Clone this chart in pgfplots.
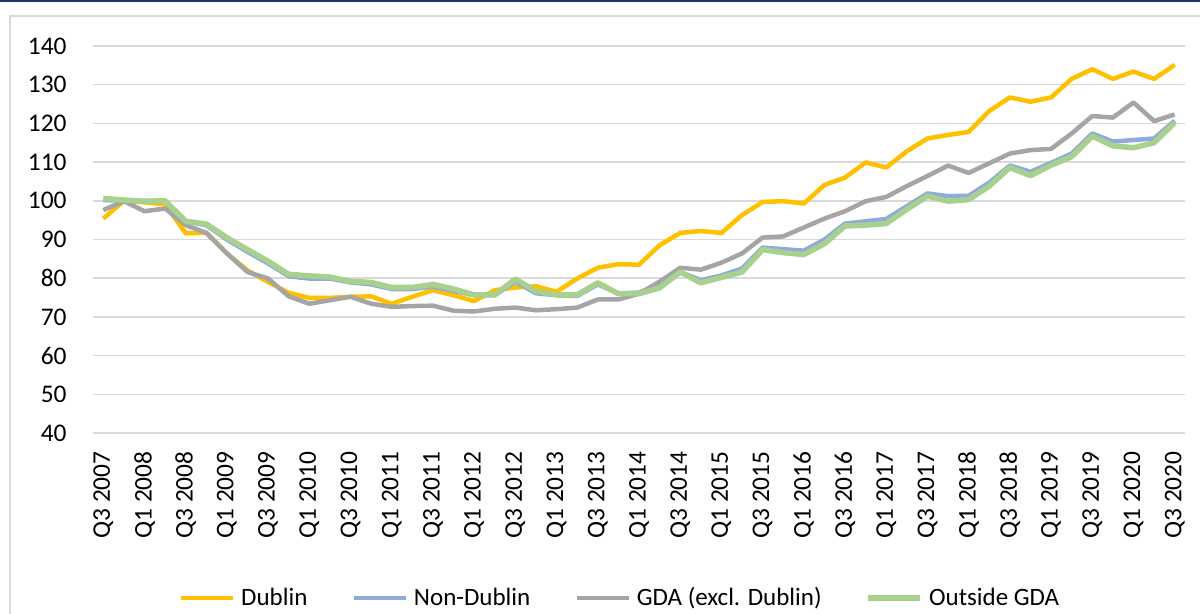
\documentclass[border=0pt]{standalone}
\usepackage{pgfplots}
\pgfplotsset{compat=1.18}
\usepackage{pgfplotstable}
\usepackage{fontspec}
\setmainfont{Carlito}
\definecolor{cDub}{HTML}{FFC000}
\definecolor{cNon}{HTML}{8FAADC}
\definecolor{cGDA}{HTML}{A5A5A5}
\definecolor{cOut}{HTML}{A9D18E}
\definecolor{cGrid}{HTML}{D9D9D9}
\definecolor{cNavy}{HTML}{1F3864}
\pgfplotstableread{
i dub non gda out
0 95.4 100.2 97.6 100.6
1 100.0 100.0 99.9 100.2
2 99.6 99.9 97.3 99.9
3 99.1 99.9 98.0 100.0
4 91.6 94.6 93.7 94.7
5 91.8 93.7 91.7 94.0
6 86.4 90.0 86.4 90.5
7 82.0 86.8 81.6 87.4
8 79.0 83.8 79.9 84.4
9 76.2 80.5 75.3 81.0
10 74.9 79.9 73.4 80.6
11 74.9 79.9 74.3 80.3
12 75.2 78.9 75.2 79.2
13 75.3 78.4 73.4 78.9
14 73.4 77.2 72.6 77.6
15 75.2 77.2 72.8 77.6
16 76.9 77.8 72.9 78.4
17 75.6 76.7 71.6 77.2
18 74.1 75.6 71.4 75.7
19 76.9 75.6 72.1 75.7
20 77.6 79.1 72.4 79.8
21 77.9 76.1 71.7 76.6
22 76.5 75.6 72.0 75.7
23 79.9 75.4 72.4 75.7
24 82.7 78.4 74.5 78.8
25 83.6 76.0 74.5 76.0
26 83.5 76.3 76.0 76.0
27 88.5 78.2 79.1 77.5
28 91.7 81.6 82.7 81.6
29 92.2 79.5 82.2 78.8
30 91.7 80.7 84.0 80.2
31 96.3 82.5 86.4 81.6
32 99.7 87.9 90.5 87.4
33 99.9 87.5 90.8 86.6
34 99.3 87.1 93.1 86.1
35 104.1 90.0 95.4 88.9
36 106.0 94.1 97.3 93.5
37 109.9 94.7 99.9 93.7
38 108.6 95.3 101.0 94.1
39 112.8 98.6 103.8 97.8
40 116.1 101.9 106.4 101.2
41 117.0 101.2 109.1 99.9
42 117.8 101.3 107.2 100.3
43 123.2 104.7 109.7 103.8
44 126.7 109.1 112.2 108.6
45 125.6 107.5 113.1 106.5
46 126.7 109.8 113.4 109.2
47 131.5 112.2 117.4 111.4
48 134.0 117.4 121.9 116.7
49 131.5 115.3 121.5 114.2
50 133.4 115.7 125.4 113.7
51 131.5 116.1 120.6 115.0
52 135.1 120.7 122.3 120.2
}\datatable
\begin{document}
\begin{tikzpicture}
\path[use as bounding box] (0,0) rectangle (600pt,307pt);
\fill[cNavy] (0,306pt) rectangle (600pt,307pt);
\draw[cGrid, line width=0.75pt] (5pt,-2pt) -- (5pt,299pt) -- (602pt,299pt);
\begin{axis}[
  at={(46.5pt,90.5pt)}, anchor=south west,
  width=546pt, height=193.5pt, scale only axis,
  xmin=-0.5, xmax=52.5, ymin=40, ymax=140,
  ytick={40,50,...,140},
  xtick={0,2,...,52},
  xticklabels={Q3 2007,Q1 2008,Q3 2008,Q1 2009,Q3 2009,Q1 2010,Q3 2010,Q1 2011,Q3 2011,Q1 2012,Q3 2012,Q1 2013,Q3 2013,Q1 2014,Q3 2014,Q1 2015,Q3 2015,Q1 2016,Q3 2016,Q1 2017,Q3 2017,Q1 2018,Q3 2018,Q1 2019,Q3 2019,Q1 2020,Q3 2020},
  axis line style={draw=none},
  major tick length=0pt,
  ymajorgrids,
  grid style={cGrid, line width=0.75pt},
  /pgf/number format/assume math mode=true,
  tick label style={font=\fontsize{12.7}{14}\selectfont, inner sep=0pt},
  yticklabel style={anchor=east, xshift=-13pt},
  xticklabel style={rotate=90, anchor=east},
  xticklabel shift=9pt,
  legend columns=4,
  legend style={draw=none, fill=none, at={(0.4835,-0.426)}, anchor=center,
    font=\fontsize{12.5}{14}\selectfont,
    /tikz/every even column/.append style={column sep=20pt},
    /tikz/every odd column/.append style={column sep=1pt},
    inner sep=0pt},
  legend cell align=left,
  legend image code/.code={\draw[#1] (0pt,0pt) -- (26pt,0pt);},
]
\addplot[cDub, line width=2.25pt, line join=round] table[x=i, y=dub] {\datatable};
\addlegendentry{Dublin}
\addplot[cNon, line width=2.25pt, line join=round] table[x=i, y=non] {\datatable};
\addlegendentry{Non-Dublin}
\addplot[cGDA, line width=2.25pt, line join=round] table[x=i, y=gda] {\datatable};
\addlegendentry{GDA (excl. Dublin)}
\addplot[cOut, line width=2.75pt, line join=round] table[x=i, y=out] {\datatable};
\addlegendentry{Outside GDA}
\end{axis}
\end{tikzpicture}
\end{document}
